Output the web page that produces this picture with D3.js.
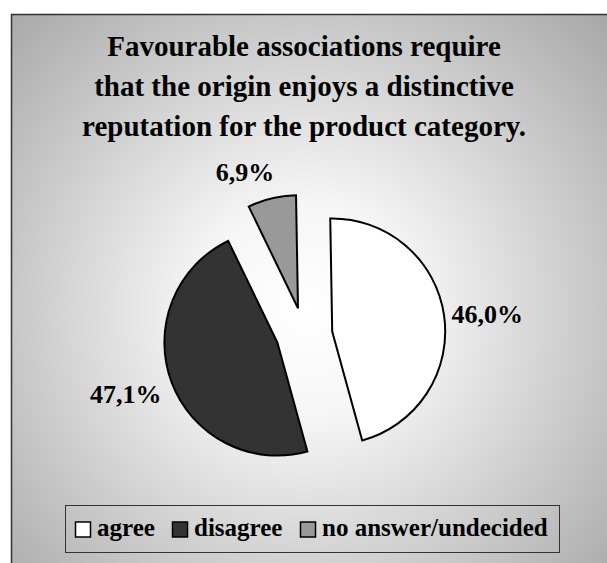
<!DOCTYPE html>
<html><head><meta charset="utf-8">
<script src="https://cdn.jsdelivr.net/npm/d3@7"></script>
<style>html,body{margin:0;padding:0;background:#fff;}svg{display:block;}</style>
</head><body>
<script>
const categories = ["agree", "disagree", "no answer/undecided"];
const values = [46.0, 47.1, 6.9];
const valueLabels = ["46,0%", "47,1%", "6,9%"];
const titleLines = ["Favourable associations require", "that the origin enjoys a distinctive", "reputation for the product category."];

const W = 607, H = 563;
const colors = ["#ffffff", "#333333", "#999999"];
const font = "'Liberation Serif','Times New Roman',serif";

const svg = d3.select("body").append("svg").attr("width", W).attr("height", H);
const defs = svg.append("defs");
const grad = defs.append("radialGradient").attr("id", "bg")
  .attr("gradientUnits", "userSpaceOnUse").attr("cx", 305).attr("cy", 310).attr("r", 420);
grad.append("stop").attr("offset", "0").attr("stop-color", "#ffffff");
grad.append("stop").attr("offset", "0.25").attr("stop-color", "#f6f6f6");
grad.append("stop").attr("offset", "1").attr("stop-color", "#a8a8a8");

svg.append("rect").attr("x", 11.5).attr("y", 14.5).attr("width", W + 10).attr("height", H + 10)
  .attr("fill", "url(#bg)").attr("stroke", "#333").attr("stroke-width", 1.5);

// Title
svg.append("g").selectAll("text").data(titleLines).join("text")
  .attr("x", 304).attr("y", (d, i) => 56 + i * 40)
  .attr("text-anchor", "middle").attr("font-family", font).attr("font-weight", "bold")
  .attr("font-size", 29).attr("fill", "#000").text(d => d);

// Pie
const cx = 304.5, cy = 335.5, R = 113;
const explode = 28;
const dirAdjust = [0, 6, 0]; // degrees, explode direction tweak
const pie = d3.pie().sort(null).startAngle(-1 * Math.PI / 180).endAngle(359 * Math.PI / 180)(values);
const arc = d3.arc().innerRadius(0).outerRadius(R);
const pg = svg.append("g").attr("transform", `translate(${cx},${cy})`);
pg.selectAll("path").data(pie).join("path")
  .attr("d", arc)
  .attr("transform", (d, i) => {
    const a = (d.startAngle + d.endAngle) / 2 + dirAdjust[i] * Math.PI / 180;
    return `translate(${explode * Math.sin(a)},${-explode * Math.cos(a)})`;
  })
  .attr("fill", (d, i) => colors[i]).attr("stroke", "#000").attr("stroke-width", 2)
  .attr("stroke-linejoin", "miter");

// Value labels (placed outside, best-fit style)
const labelR = [184, 188, 174];
const labelAdjust = [1.5, 2.6, -6.6];
const labelAngle = (d, i) => (d.startAngle + d.endAngle) / 2 + labelAdjust[i] * Math.PI / 180;
pg.selectAll("text").data(pie).join("text")
  .attr("x", (d, i) => labelR[i] * Math.sin(labelAngle(d, i)))
  .attr("y", (d, i) => -labelR[i] * Math.cos(labelAngle(d, i)) + 9)
  .attr("text-anchor", "middle").attr("font-family", font).attr("font-weight", "bold")
  .attr("font-size", 26).attr("fill", "#000").text((d, i) => valueLabels[i]);

// Legend
const lg = svg.append("g");
lg.append("rect").attr("x", 65.5).attr("y", 505.5).attr("width", 494).attr("height", 47)
  .attr("fill", "none").attr("stroke", "#333").attr("stroke-width", 1);
const itemX = [75, 172, 300];
const items = lg.selectAll("g.it").data(categories).join("g").attr("class", "it")
  .attr("transform", (d, i) => `translate(${itemX[i]},0)`);
items.append("rect").attr("x", 0.5).attr("y", 522).attr("width", 15).attr("height", 15)
  .attr("fill", (d, i) => colors[i]).attr("stroke", "#000").attr("stroke-width", 1.5);
items.append("text").attr("x", 22).attr("y", 536)
  .attr("font-family", font).attr("font-weight", "bold").attr("font-size", 25)
  .attr("fill", "#000").text(d => d);
</script>
</body></html>
